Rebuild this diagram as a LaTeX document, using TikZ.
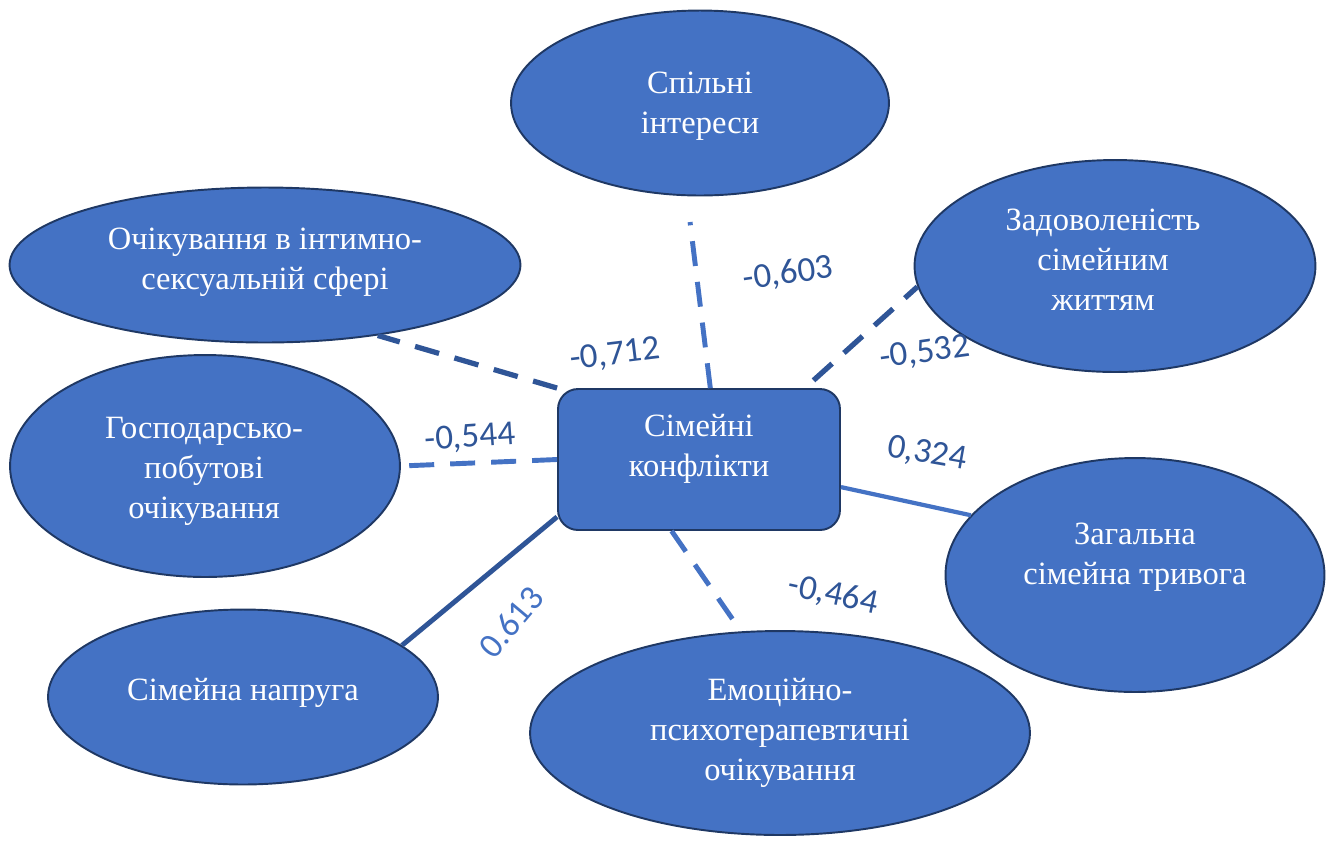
\documentclass[tikz,border=0pt]{standalone}
\usepackage{fontspec}
\setmainfont{Liberation Serif}
\newfontfamily\lblfont{Carlito}
\usetikzlibrary{shapes.geometric}
\definecolor{nodefill}{HTML}{4472C4}
\definecolor{nodeline}{HTML}{1F3864}
\definecolor{darkline}{HTML}{2F5597}
\definecolor{lightline}{HTML}{4472C4}
\tikzset{
  oval/.style={ellipse, draw=nodeline, line width=1.1pt, fill=nodefill, inner sep=0pt},
  centerbox/.style={rectangle, rounded corners=0.4cm, draw=nodeline, line width=1.1pt, fill=nodefill, minimum width=5.64cm, minimum height=2.82cm, inner sep=0pt},
  ntext/.style={text=white, align=center, font=\fontsize{18.5}{22.8}\selectfont},
  coef/.style={text=darkline, font=\lblfont\fontsize{20}{24}\selectfont, inner sep=0pt},
  dashlink/.style={dash pattern=on 0.5cm off 0.32cm},
  lightdash/.style={dashlink, draw=lightline, line width=2.8pt},
  darkdash/.style={dashlink, draw=darkline, line width=3pt},
  lightsolid/.style={draw=lightline, line width=2.4pt},
  darksolid/.style={draw=darkline, line width=2.8pt}
}
\begin{document}
\begin{tikzpicture}[x=0.02cm, y=-0.02cm]
\useasboundingbox (0,0) rectangle (1333,840);
% connectors (drawn first, nodes placed as coordinates for naming)
\node[centerbox] (c) at (699,459.5) {};
\node[oval, minimum width=7.56cm, minimum height=3.70cm] (e1) at (700,103) {};
\node[oval, minimum width=10.22cm, minimum height=3.10cm] (e2) at (265,265) {};
\node[oval, minimum width=8.02cm, minimum height=4.24cm] (e3) at (1115,266) {};
\node[oval, minimum width=7.80cm, minimum height=4.44cm] (e4) at (205,466) {};
\node[oval, minimum width=7.58cm, minimum height=4.68cm] (e5) at (1135,575) {};
\node[oval, minimum width=7.80cm, minimum height=3.50cm] (e6) at (243,697) {};
\node[oval, minimum width=10.00cm, minimum height=4.08cm] (e7) at (780,733) {};

\draw[lightdash, shorten >=0.52cm] (c.81) -- (e1.262.6);
\draw[darkdash] (c.north west) -- (e2.328);
\draw[darkdash, shorten <=0.23cm] (c.34.9) -- (e3.186);
\draw[lightdash] (c.west) -- (e4.east);
\draw[lightsolid] (c.349.75) -- (e5.160);
\draw[darksolid] (c.202) -- (e6.18);
\draw[lightdash] (c.249) -- (e7.111.6);

\node[ntext] (t1) at (700,106) {Спільні\\інтереси};
\node[ntext] (t2) at (265,262) {Очікування в інтимно-\\сексуальній сфері};
\node[ntext] (t3) at (1103,260) {Задоволеність\\сімейним\\життям};
\node[ntext] (t4) at (204,471) {Господарсько-\\побутові\\очікування};
\node[ntext] (t5) at (1135,557) {Загальна\\сімейна тривога};
\node[ntext] (t6) at (243,693) {Сімейна напруга};
\node[ntext] (t7) at (780,733) {Емоційно-\\психотерапевтичні\\очікування};
\node[ntext] (tc) at (699,449) {Сімейні\\конфлікти};

\node[coef, rotate=8] (l1) at (788,274) {-0,603};
\node[coef, rotate=7] (l2) at (615,355) {-0,712};
\node[coef, rotate=8] (l3) at (925,353) {-0,532};
\node[coef, rotate=4] (l4) at (470,438) {-0,544};
\node[coef, rotate=-10] (l5) at (927,454) {0,324};
\node[coef, rotate=-12] (l7) at (833,595) {-0,464};
\node[coef, rotate=50, text=lightline] (l6) at (511,622) {0.613};
\end{tikzpicture}
\end{document}
